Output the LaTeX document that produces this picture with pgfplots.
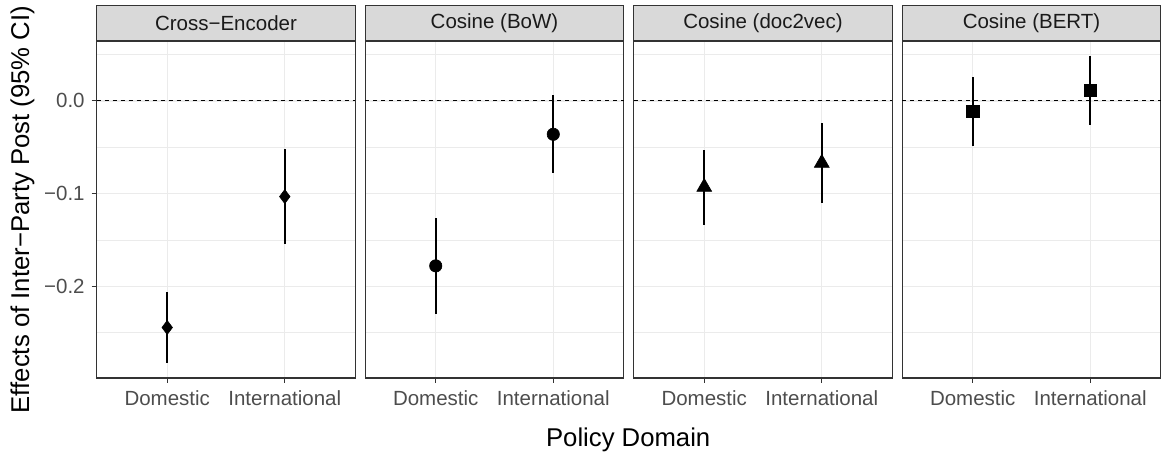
\documentclass[border=0pt]{standalone}
\usepackage{fontspec}
\setmainfont{Liberation Sans}
\usepackage{pgfplots}
\usepackage{pgfplotstable}
\pgfplotsset{compat=1.18}
\definecolor{gray10}{HTML}{1A1A1A}
\definecolor{gray20}{HTML}{333333}
\definecolor{gray30}{HTML}{4D4D4D}
\definecolor{gray85}{HTML}{D9D9D9}
\definecolor{gray92}{HTML}{EBEBEB}

% x: 1 = Domestic, 2 = International
\pgfplotstableread{
x y lo hi
1 -0.2445 -0.2830 -0.2057
2 -0.1032 -0.1539 -0.0521
}\ce
\pgfplotstableread{
x y lo hi
1 -0.1780 -0.2298 -0.1266
2 -0.0360 -0.0780 0.0065
}\bow
\pgfplotstableread{
x y lo hi
1 -0.0930 -0.1338 -0.0529
2 -0.0670 -0.1097 -0.0234
}\dv
\pgfplotstableread{
x y lo hi
1 -0.0115 -0.0485 0.0262
2 0.0115 -0.0259 0.0489
}\bert

\newcommand{\tickfont}{\fontsize{10.25}{12}\selectfont}
\newcommand{\titlefont}{\fontsize{12.85}{15}\selectfont}

\pgfplotsset{
  facet/.style={
    scale only axis,
    width=129.3pt, height=168.5pt,
    anchor=south west,
    xmin=0.4, xmax=2.6,
    ymin=-0.299, ymax=0.0647,
    xtick={1,2}, xticklabels={Domestic,International},
    ytick={-0.2,-0.1,0},
    minor ytick={-0.25,-0.15,-0.05,0.05},
    grid=both,
    major grid style={color=gray92, line width=0.6pt},
    minor grid style={color=gray92, line width=0.3pt},
    tick align=outside,
    major tick length=2.5pt,
    minor tick length=0pt,
    tick pos=left,
    tick style={color=gray20, line width=0.55pt},
    axis line style={gray20, line width=0.65pt},
    ticklabel style={font=\tickfont, text=gray30},
    xticklabel style={anchor=base, yshift=-11.5pt},
    yticklabel style={anchor=east},
  },
  noy/.style={yticklabels={}, y tick style={draw=none}},
  zero/.style={black, dash pattern=on 2pt off 2pt, line width=0.45pt, forget plot},
  pr/.style={only marks, black, mark options={line width=0.3pt, fill=black, draw=black},
    error bars/y dir=both, error bars/y explicit, error bars/error mark=none,
    error bars/error bar style={line width=0.85pt, black, solid}},
}

\newcommand{\strip}[2]{%
  \draw[fill=gray85, draw=gray20, line width=0.65pt] (#1.north west) rectangle ([yshift=17.85pt]#1.north east);
  \node[font=\tickfont, text=gray10] at ([yshift=8.925pt]#1.north) {#2};
}

\begin{document}
\begin{tikzpicture}
\useasboundingbox (0,0) rectangle (580.5pt,226.5pt);

\begin{axis}[facet, name=a1, at={(48.35pt,37.5pt)}, yticklabels={−0.2,−0.1,0.0}]
\addplot[zero] coordinates {(0.4,0) (2.6,0)};
\addplot[pr, mark=diamond*, mark size=3.5pt] table[x=x, y=y, y error plus expr=\thisrow{hi}-\thisrow{y}, y error minus expr=\thisrow{y}-\thisrow{lo}] {\ce};
\end{axis}

\begin{axis}[facet, noy, name=a2, at={(182.6pt,37.5pt)}]
\addplot[zero] coordinates {(0.4,0) (2.6,0)};
\addplot[pr, mark=*, mark size=3.1pt] table[x=x, y=y, y error plus expr=\thisrow{hi}-\thisrow{y}, y error minus expr=\thisrow{y}-\thisrow{lo}] {\bow};
\end{axis}

\begin{axis}[facet, noy, name=a3, at={(316.85pt,37.5pt)}]
\addplot[zero] coordinates {(0.4,0) (2.6,0)};
\addplot[pr, mark=triangle*, mark size=4.3pt] table[x=x, y=y, y error plus expr=\thisrow{hi}-\thisrow{y}, y error minus expr=\thisrow{y}-\thisrow{lo}] {\dv};
\end{axis}

\begin{axis}[facet, noy, name=a4, at={(451.1pt,37.5pt)}]
\addplot[zero] coordinates {(0.4,0) (2.6,0)};
\addplot[pr, mark=square*, mark size=3.1pt] table[x=x, y=y, y error plus expr=\thisrow{hi}-\thisrow{y}, y error minus expr=\thisrow{y}-\thisrow{lo}] {\bert};
\end{axis}

\strip{a1}{Cross−Encoder}
\strip{a2}{Cosine (BoW)}
\strip{a3}{Cosine (doc2vec)}
\strip{a4}{Cosine (BERT)}

\node[font=\titlefont, rotate=90] at (11.25pt,121.75pt) {Effects of Inter−Party Post (95\% CI)};
\node[font=\titlefont, anchor=base] at (314.1pt,3.25pt) {Policy Domain};
\end{tikzpicture}
\end{document}
